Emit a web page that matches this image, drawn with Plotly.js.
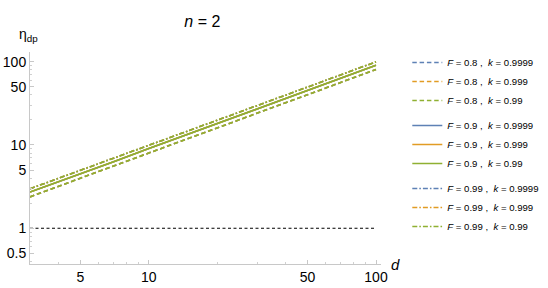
<!DOCTYPE html>
<html>
<head>
<meta charset="utf-8">
<script src="https://cdn.plot.ly/plotly-3.0.1.min.js"></script>
<style>html,body{margin:0;padding:0;background:#fff;}#chart{width:548px;height:288px;}</style>
</head>
<body>
<div id="chart"></div>
<script>
// data
const d = [3, 4, 5, 7, 10, 20, 30, 50, 70, 100];
const etaF08 = [2.38, 3.2, 4.0, 5.6, 8.0, 16.0, 24.0, 40.0, 56.0, 80.5];
const etaF09 = [2.72, 3.6, 4.5, 6.3, 9.05, 18.1, 27.1, 45.2, 63.2, 90.3];
const etaF099 = [2.98, 3.96, 4.95, 6.93, 9.9, 19.8, 29.7, 49.5, 69.3, 99.5];
const Fvals = ['0.8', '0.9', '0.99'];
const kvals = ['0.9999', '0.999', '0.99'];
const seriesByF = [etaF08, etaF09, etaF099];
const refD = [3, 100];
const refEta = [1, 1];
const xTicks = [5, 10, 50, 100];
const xTickText = ['5', '10', '50', '100'];
const yTicks = [0.5, 1, 5, 10, 50, 100];
const yTickText = ['0.5', '1', '5', '10', '50', '100'];
const xMinor = [4, 6, 7, 8, 9, 20, 30, 40, 60, 70, 80, 90];
const yMinor = [0.4, 0.6, 0.7, 0.8, 0.9, 2, 3, 4, 6, 7, 8, 9, 20, 30, 40, 60, 70, 80, 90];

const colors = ['#5E81B5', '#E19C24', '#8FB032'];
const dashes = ['4.5px,2.8px', 'solid', '5px,2px,1.6px,2px'];

const traces = [];
Fvals.forEach((F, i) => {
  kvals.forEach((k, j) => {
    traces.push({
      x: d, y: seriesByF[i], type: 'scatter', mode: 'lines',
      name: '<i>F</i> = ' + F + ' ,  <i>k</i> = ' + k,
      legendgroup: 'g' + i,
      line: {color: colors[j], width: 1.6, dash: dashes[i]}
    });
  });
});
traces.push({
  x: refD, y: refEta, type: 'scatter', mode: 'lines', showlegend: false,
  line: {color: '#000', width: 1.2, dash: '3px,2.5px'}, hoverinfo: 'skip'
});

const FONT = 'Liberation Sans, Arial, sans-serif';
const axisCommon = {
  type: 'log', showgrid: false, zeroline: false, showline: true,
  linecolor: '#c8c8c8', linewidth: 1, ticks: 'inside', ticklen: 4, tickcolor: '#c8c8c8',
  tickmode: 'array', tickfont: {family: FONT, size: 14, color: '#000'}
};

// paper spans x 30..544 px, y 10..264 px; plot area x 30..384, y 52..264
const PW = 514, PH = 254;
const xDomEnd = 354 / PW;
const yDomEnd = 212 / PH;
const py = v => (264 - v) / PH;

const layout = {
  width: 548, height: 288,
  margin: {l: 30, r: 4, t: 10, b: 24},
  paper_bgcolor: '#fff', plot_bgcolor: '#fff',
  font: {family: FONT, color: '#000'},
  title: {text: '<i>n</i> = 2', x: (204 - 30) / PW, xref: 'paper', xanchor: 'center',
          y: 0.945, yref: 'container',
          font: {size: 16, family: FONT, color: '#000'}},
  xaxis: Object.assign({}, axisCommon, {
    domain: [0, xDomEnd],
    range: [Math.log10(3), 2.02], tickvals: xTicks, ticktext: xTickText,
    minor: {tickvals: xMinor, ticks: 'inside', ticklen: 2, tickcolor: '#d0d0d0'}
  }),
  yaxis: Object.assign({}, axisCommon, {
    domain: [0, yDomEnd],
    range: [-0.429, 2.116], tickvals: yTicks, ticktext: yTickText,
    minor: {tickvals: yMinor, ticks: 'inside', ticklen: 2, tickcolor: '#d0d0d0'}
  }),
  legend: {
    x: (411 - 30) / PW, xanchor: 'left', y: py(48), yanchor: 'top',
    traceorder: 'grouped', tracegroupgap: 6,
    font: {size: 9.6, family: FONT, color: '#000'},
    bgcolor: 'rgba(0,0,0,0)'
  },
  annotations: [
    {text: 'η<sub>dp</sub>', xref: 'paper', yref: 'paper', x: -0.002, y: py(35),
     xanchor: 'center', yanchor: 'middle', showarrow: false,
     font: {size: 14, family: FONT, color: '#000'}},
    {text: '<i>d</i>', xref: 'paper', yref: 'paper', x: (393 - 30) / PW, y: 0.0,
     xanchor: 'left', yanchor: 'middle', showarrow: false,
     font: {size: 15, family: FONT, color: '#000'}}
  ],
  showlegend: true
};

Plotly.newPlot('chart', traces, layout, {displayModeBar: false, staticPlot: true});
</script>
</body>
</html>
